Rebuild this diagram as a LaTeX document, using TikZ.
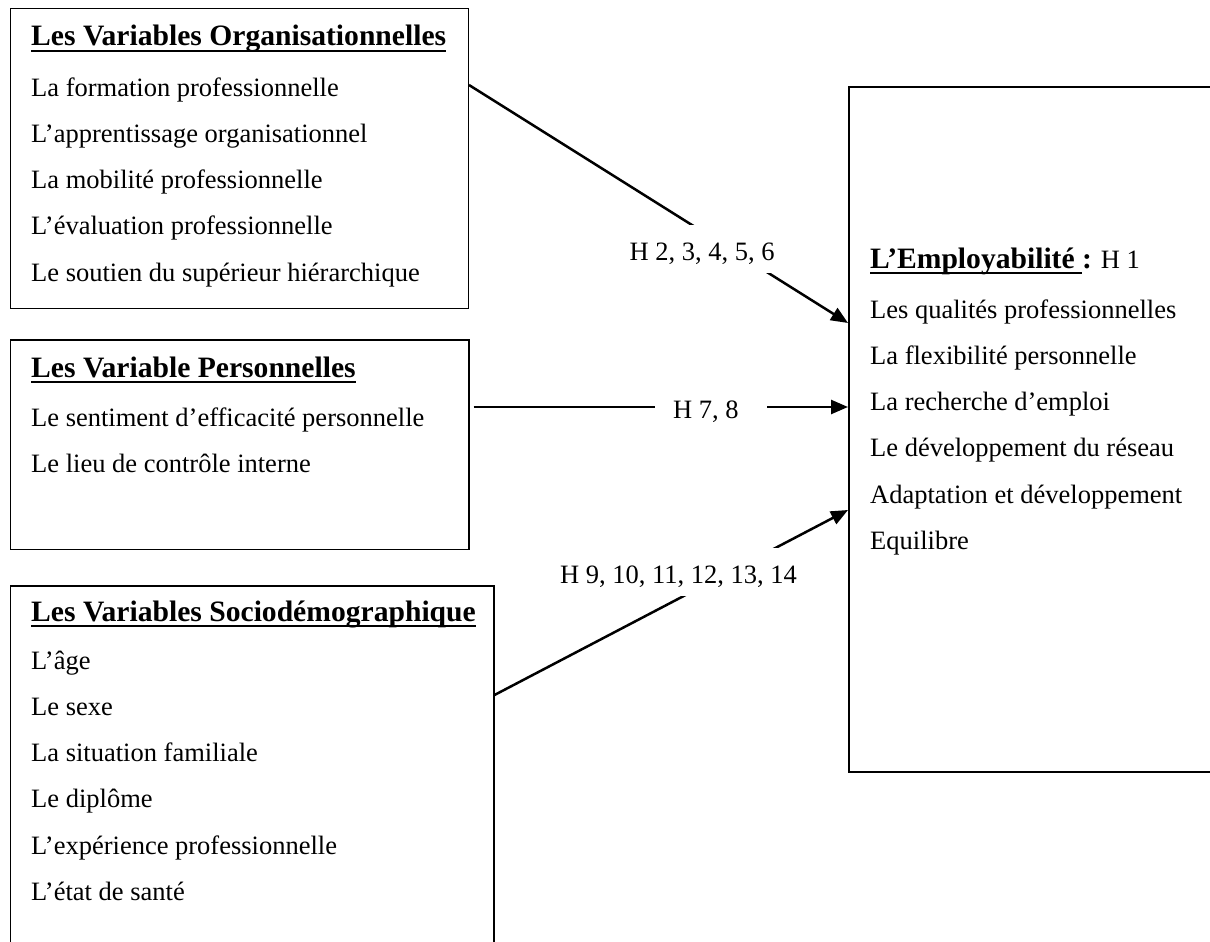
\documentclass[tikz,border=0pt]{standalone}
\usepackage{fontspec}
\setmainfont[Ligatures=NoCommon]{Liberation Serif}
\usetikzlibrary{arrows.meta,calc}
\newcommand\myul[1]{\setbox0\hbox{#1}\rlap{\rule[-6.2pt]{\wd0}{2.4pt}}\box0}
\tikzset{
  boxnode/.style={draw, line width=1.5pt, inner sep=0pt, anchor=north west},
  itemtext/.style={anchor=base west, inner sep=0pt, font=\fontsize{26.5pt}{30pt}\selectfont},
  titletext/.style={anchor=base west, inner sep=0pt, font=\fontsize{29.6pt}{34pt}\selectfont\bfseries},
  hlabel/.style={fill=white, inner sep=0pt, anchor=base west, font=\fontsize{26.5pt}{30pt}\selectfont},
  link/.style={line width=2.5pt, -{Triangle[length=17pt,width=14pt]}}
}
\begin{document}
\begin{tikzpicture}[x=1pt,y=-1pt]
\useasboundingbox (0,0) rectangle (1210,942);
\clip (0,0) rectangle (1210,942);
% boxes
\node[boxnode, minimum width=458pt, minimum height=299.5pt] (b1) at (9.5,8) {};
\node[boxnode, minimum width=458.5pt, minimum height=209.5pt] (b2) at (9.5,339) {};
\node[boxnode, minimum width=483.5pt, minimum height=380pt] (b3) at (9.5,585) {};
\node[boxnode, minimum width=390pt, minimum height=685pt] (emp) at (848,86) {};
% box 1 text
\node[titletext] (b1t) at (31,46) {\myul{Les Variables Organisationnelles}};
\foreach \t [count=\i from 0] in {La formation professionnelle, L’apprentissage organisationnel, La mobilité professionnelle, L’évaluation professionnelle, Le soutien du supérieur hiérarchique}
  \node[itemtext] (b1i\i) at (31,96+46.3*\i) {\t};
% box 2 text
\node[titletext] (b2t) at (31,377) {\myul{Les Variable Personnelles}};
\foreach \t [count=\i from 0] in {Le sentiment d’efficacité personnelle, Le lieu de contrôle interne}
  \node[itemtext] (b2i\i) at (31,426+46.3*\i) {\t};
% box 3 text
\node[titletext] (b3t) at (31,621) {\myul{Les Variables Sociodémographique}};
\foreach \t [count=\i from 0] in {L’âge, Le sexe, La situation familiale, Le diplôme, L’expérience professionnelle, L’état de santé}
  \node[itemtext] (b3i\i) at (31,669+46.3*\i) {\t};
% employability text
\node[titletext] (empt) at (870,268) {\myul{L’Employabilité }:{\mdseries\fontsize{26.5pt}{30pt}\selectfont{} H 1}};
\foreach \t [count=\i from 0] in {Les qualités professionnelles, La flexibilité personnelle, La recherche d’emploi, Le développement du réseau, Adaptation et développement, Equilibre}
  \node[itemtext] (empi\i) at (870,318+46.3*\i) {\t};
% connectors
\draw[link] ($(b1.north east)+(0,77)$) -- ($(emp.north west)+(0,237)$);
\draw[link] ($(b2.north east)+(4,68)$) -- ($(emp.north west)+(0,321)$);
\draw[link] ($(b3.north east)+(0,110)$) -- ($(emp.north west)+(0,424)$);
% labels
\node[hlabel, text height=35pt, text depth=13pt] (l1) at (629.5,260) {H 2, 3, 4, 5, 6};
\node[hlabel, text height=26pt, text depth=4pt] (l2) at (655,418) {\kern18pt H 7, 8\kern28pt};
\node[hlabel, text height=35pt, text depth=13pt] (l3) at (560,583) {H 9, 10, 11, 12, 13, 14};
\end{tikzpicture}
\end{document}
